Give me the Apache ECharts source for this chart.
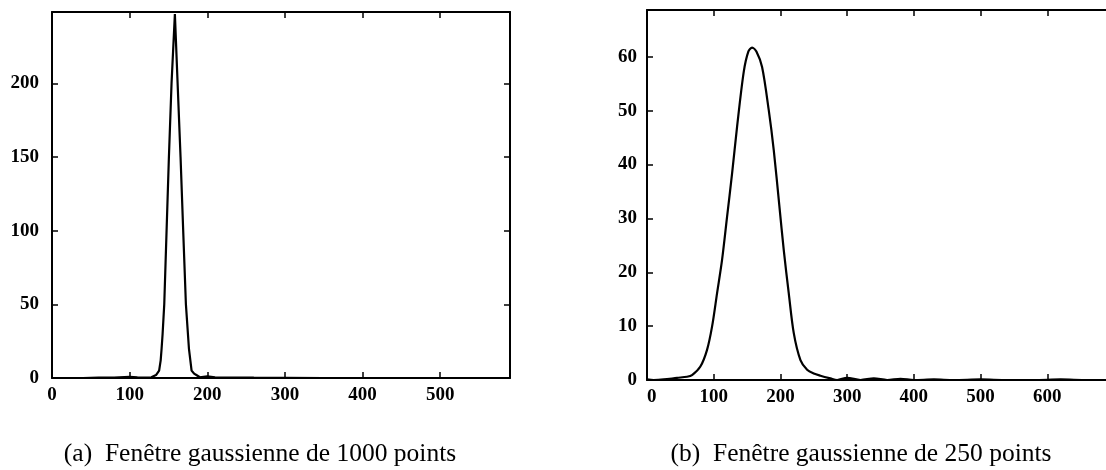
<!DOCTYPE html>
<html>
<head>
<meta charset="utf-8">
<script src="https://cdn.jsdelivr.net/npm/echarts@6/dist/echarts.min.js"></script>
<style>
html,body{margin:0;padding:0;background:#fff;overflow:hidden;}
#c{width:1106px;height:470px;}
</style>
</head>
<body>
<div id="c"></div>
<script>
// (a) Gaussian window of 1000 points
const xA = [0, 20, 40, 60, 80, 100, 110, 120, 128, 134, 138, 140, 141.2, 142.5, 144.6, 147.6, 150.6, 154, 158.3, 161.8, 165.6, 169, 172.5, 176.4, 179.8, 183, 186, 190.5, 200, 210, 230, 260, 300, 350, 400, 450, 500, 550, 590];
const yA = [0, 0, 0, 0.2, 0.3, 0.8, 0.5, 0.3, 0.5, 2, 5, 12, 20, 30, 50, 100, 150, 200, 247, 200, 150, 100, 50, 20, 5, 3, 2, 0.5, 1.2, 0.5, 0.3, 0.2, 0.1, 0, 0, 0, 0, 0, 0];
// (b) Gaussian window of 250 points
const xB = [0, 10, 25, 45, 60, 67.5, 80, 90, 97.5, 105, 112.5, 120, 127.5, 135, 145, 152, 157.5, 164, 172.5, 182.5, 190, 198.5, 205, 212.5, 220, 230, 240, 250, 260, 275, 285, 300, 320, 340, 360, 380, 400, 430, 460, 500, 540, 580, 620, 660, 700];
const yB = [0.1, 0, 0.1, 0.4, 0.6, 0.9, 2.5, 5.6, 9.9, 16.1, 22.3, 30.3, 38.3, 47, 57.2, 61, 61.7, 61, 58.1, 50.1, 42.7, 32.2, 24.1, 16.1, 8.7, 3.7, 1.9, 1.2, 0.8, 0.3, 0, 0.4, 0, 0.3, 0, 0.2, 0, 0.1, 0, 0.1, 0, 0, 0.1, 0, 0];
const captionA = "(a)  Fenêtre gaussienne de 1000 points";
const captionB = "(b)  Fenêtre gaussienne de 250 points";

const FONT = "'Liberation Serif', 'DejaVu Serif', serif";
const lbl = {color: '#000', fontFamily: FONT, fontSize: 19, fontWeight: 'bold'};
const line = {lineStyle: {color: '#000', width: 2.2}};

function xAx(grid, max, pos, showLabels, extra) {
  return Object.assign({
    type: 'value', gridIndex: grid, min: 0, max: max, interval: 100, position: pos,
    axisLine: {show: true, onZero: false, lineStyle: {color: '#000', width: 2}},
    axisTick: {show: true, inside: true, length: 6, lineStyle: {color: '#000', width: 1.5}},
    axisLabel: Object.assign({show: showLabels, margin: 8, showMaxLabel: false}, lbl),
    splitLine: {show: false}
  }, extra || {});
}
function yAx(grid, max, interval, pos, showLabels, margin) {
  return {
    type: 'value', gridIndex: grid, min: 0, max: max, interval: interval, position: pos,
    axisLine: {show: true, onZero: false, lineStyle: {color: '#000', width: 2}},
    axisTick: {show: true, inside: true, length: 6, lineStyle: {color: '#000', width: 1.5}},
    axisLabel: Object.assign({show: showLabels, margin: margin, showMaxLabel: false}, lbl),
    splitLine: {show: false}
  };
}

const chart = echarts.init(document.getElementById('c'));
const xb = xAx(1, 700, 'bottom', true);
xb.axisLabel.alignMinLabel = 'left';
chart.setOption({
  backgroundColor: '#fff',
  animation: false,
  grid: [
    {left: 52, top: 12, width: 458, height: 366, outerBoundsMode: 'none', containLabel: false},
    {left: 647, top: 10, width: 467, height: 370, outerBoundsMode: 'none', containLabel: false}
  ],
  xAxis: [
    xAx(0, 590, 'bottom', true),
    xAx(0, 590, 'top', false),
    xb,
    xAx(1, 700, 'top', false)
  ],
  yAxis: [
    yAx(0, 248.4, 50, 'left', true, 13),
    yAx(0, 248.4, 50, 'right', false, 8),
    yAx(1, 68.7, 10, 'left', true, 10),
    yAx(1, 68.7, 10, 'right', false, 8)
  ],
  series: [
    Object.assign({type: 'line', xAxisIndex: 0, yAxisIndex: 0, showSymbol: false, smooth: false,
      data: xA.map((x, i) => [x, yA[i]])}, line),
    Object.assign({type: 'line', xAxisIndex: 2, yAxisIndex: 2, showSymbol: false, smooth: 0.3,
      data: xB.map((x, i) => [x, yB[i]])}, line)
  ],
  graphic: [
    {type: 'text', x: 260, y: 454, style: {text: captionA, font: "25.5px " + FONT, fill: '#000', textAlign: 'center', textVerticalAlign: 'middle'}},
    {type: 'text', x: 861, y: 454, style: {text: captionB, font: "25.5px " + FONT, fill: '#000', textAlign: 'center', textVerticalAlign: 'middle'}}
  ]
});
</script>
</body>
</html>
